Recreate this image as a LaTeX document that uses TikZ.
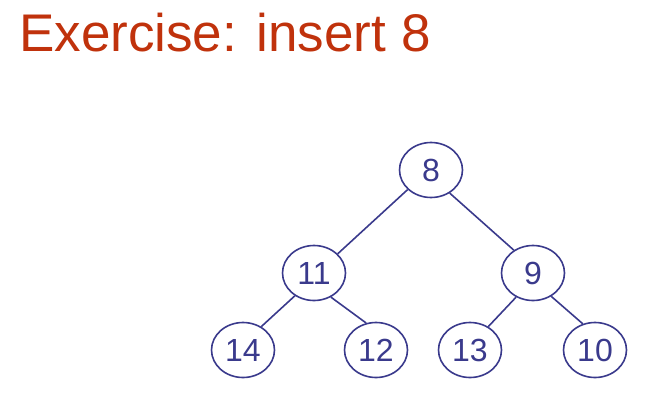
\documentclass[tikz,border=0pt]{standalone}
\usepackage{fontspec}
\setmainfont{Liberation Sans}
\usetikzlibrary{shapes.geometric}
\definecolor{titlered}{RGB}{192,50,12}
\definecolor{navy}{RGB}{58,58,140}
\begin{document}
\begin{tikzpicture}[x=1pt,y=-1pt,
  hnode/.style={draw=navy, line width=1.6pt, ellipse, minimum width=63pt, minimum height=55pt, inner sep=0pt, text=navy, font=\fontsize{32}{32}\selectfont},
  edge/.style={draw=navy, line width=1.6pt}]
\useasboundingbox (0,0) rectangle (659,402);
\node[anchor=base west, text=titlered, font=\fontsize{53}{53}\selectfont, inner sep=0pt] (title) at (19,51) {Exercise: insert 8};
\node[hnode] (n8) at (431,170) {8};
\node[hnode] (n11) at (314,273) {11};
\node[hnode] (n9) at (533,273) {9};
\node[hnode] (n14) at (243,350) {14};
\node[hnode] (n12) at (376,350) {12};
\node[hnode] (n13) at (470,350) {13};
\node[hnode] (n10) at (595,350) {10};
\draw[edge] (n8.220) -- (n11.39);
\draw[edge] (n8.-51) -- (n9.130);
\draw[edge] (n11.-130) -- (n14.52);
\draw[edge] (n11.-55) -- (n12.110);
\draw[edge] (n9.-125) -- (n13.52);
\draw[edge] (n9.-52) -- (n10.115);
\end{tikzpicture}
\end{document}
